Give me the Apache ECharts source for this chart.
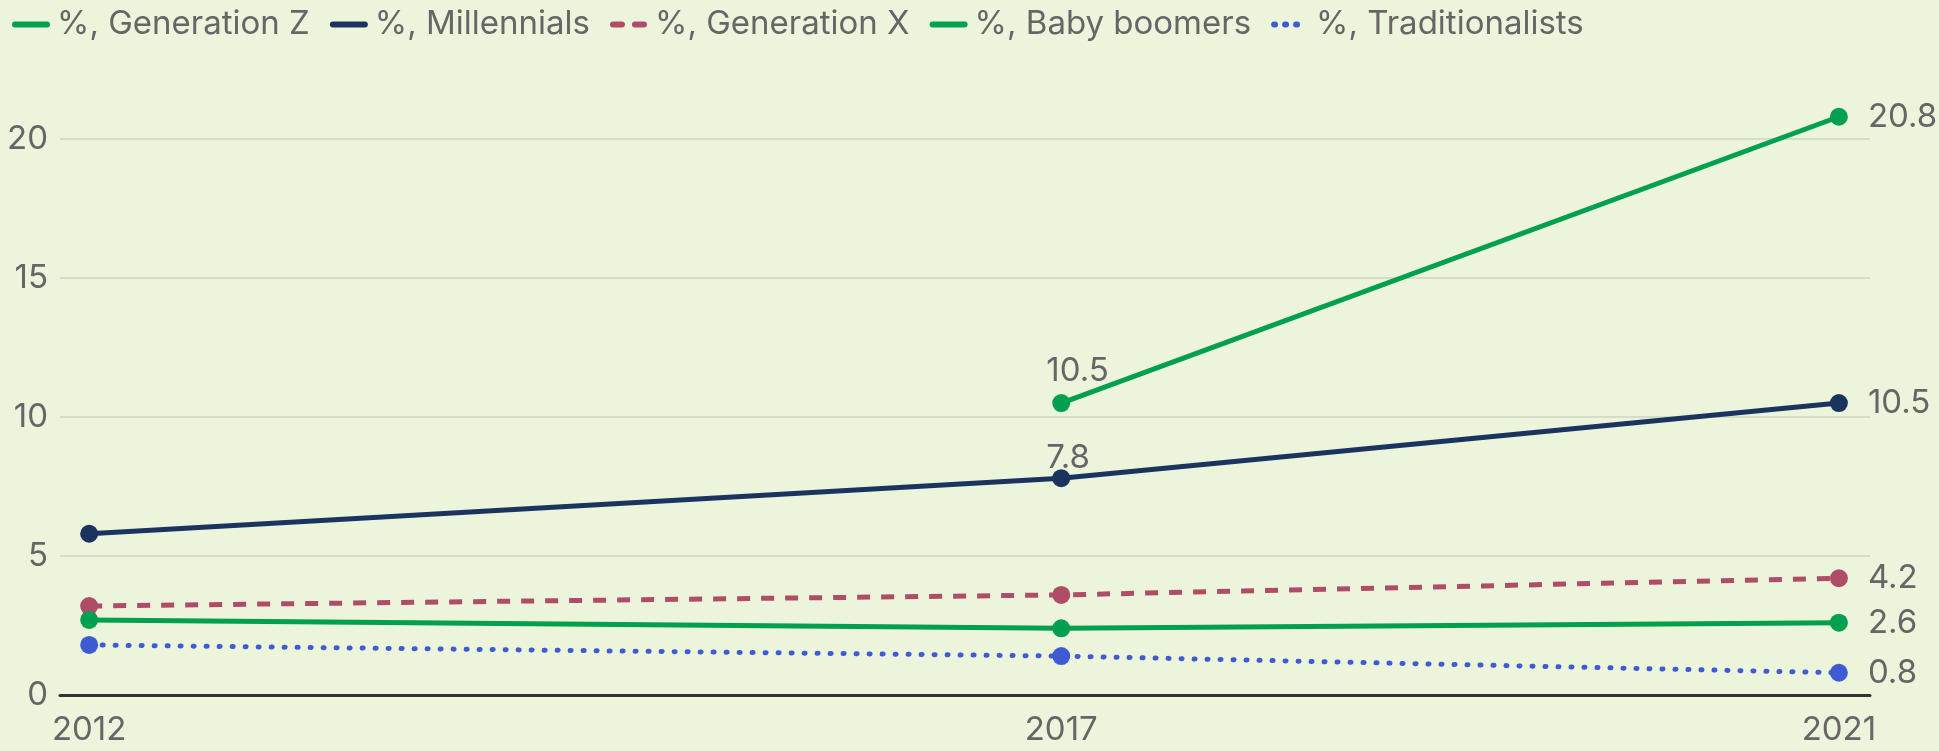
<!DOCTYPE html>
<html>
<head>
<meta charset="utf-8">
<script src="https://cdn.jsdelivr.net/npm/echarts@6/dist/echarts.min.js"></script>
<style>
  html, body { margin: 0; padding: 0; background: #ecf4dc; }
  #chart { width: 1939px; height: 751px; }
</style>
</head>
<body>
<div id="chart"></div>
<script>
const years = [2012, 2017, 2021]
const xTickLabels = [2012, 2017, 2021]
const yTicks = [0, 5, 10, 15, 20]

const seriesNames = ['%, Generation Z', '%, Millennials', '%, Generation X', '%, Baby boomers', '%, Traditionalists']
const genZ = [null, 10.5, 20.8]
const millennials = [5.8, 7.8, 10.5]
const genX = [3.2, 3.6, 4.2]
const boomers = [2.7, 2.4, 2.6]
const traditionalists = [1.8, 1.4, 0.8]

// points with a value label sitting above them (index into years)
const topLabelAt = { '%, Generation Z': 1, '%, Millennials': 1 }
const topLabelDistance = { '%, Generation Z': 7, '%, Millennials': -5 }

const textColor = '#666666'
const font = 'Inter, Roboto, sans-serif'
const fontSize = 33

function buildData(name, values) {
  return values.map((v, i) => {
    if (v === null) return [years[i], null]
    const item = { value: [years[i], v] }
    if (i === values.length - 1) {
      item.label = { show: true, position: 'right', distance: 20 }
    } else if (topLabelAt[name] === i) {
      item.label = {
        show: true,
        position: 'top',
        align: 'left',
        distance: topLabelDistance[name],
        offset: [-15, 0]
      }
    }
    return item
  })
}

function makeSeries(name, values, color, lineType, cap) {
  return {
    name: name,
    type: 'line',
    clip: false,
    symbol: 'circle',
    symbolSize: 18,
    connectNulls: false,
    lineStyle: { color: color, width: 5, type: lineType, cap: cap || 'butt' },
    itemStyle: { color: color },
    label: {
      color: textColor,
      fontFamily: font,
      fontSize: fontSize,
      formatter: (p) => p.value[1].toFixed(1)
    },
    emphasis: { disabled: true },
    data: buildData(name, values)
  }
}

const legendDash = {
  '%, Generation X': [9, 13],
  '%, Traditionalists': [1, 10]
}

const chart = echarts.init(document.getElementById('chart'))
chart.setOption({
  backgroundColor: '#ecf4dc',
  animation: false,
  legend: {
    left: 7,
    top: 3,
    itemWidth: 32,
    itemHeight: 4,
    itemGap: 20,
    itemStyle: { opacity: 0 },
    textStyle: {
      color: textColor,
      fontFamily: font,
      fontSize: 33,
      padding: [0, 0, 0, 5]
    },
    data: seriesNames.map((n) => ({
      name: n,
      lineStyle: { width: 6, cap: 'round', type: legendDash[n] || 'solid' }
    }))
  },
  grid: {
    left: 60,
    right: 69,
    top: 139,
    bottom: 56
  },
  xAxis: {
    type: 'value',
    min: 2011.85,
    max: 2021.16,
    splitLine: { show: false },
    axisTick: { show: false },
    axisLine: { lineStyle: { color: '#333333', width: 3 } },
    axisLabel: {
      customValues: xTickLabels,
      color: textColor,
      fontFamily: font,
      fontSize: fontSize,
      margin: 19,
      formatter: (v) => String(v)
    }
  },
  yAxis: {
    type: 'value',
    min: yTicks[0],
    max: yTicks[yTicks.length - 1],
    interval: 5,
    axisLine: { show: false },
    axisTick: { show: false },
    splitLine: { lineStyle: { color: '#d5dcc8', width: 2 } },
    axisLabel: {
      color: textColor,
      fontFamily: font,
      fontSize: fontSize,
      margin: 12
    }
  },
  series: [
    makeSeries(seriesNames[0], genZ, '#00a04e', 'solid'),
    makeSeries(seriesNames[1], millennials, '#1b345f', 'solid'),
    makeSeries(seriesNames[2], genX, '#b04d66', [13, 11]),
    makeSeries(seriesNames[3], boomers, '#00a04e', 'solid'),
    makeSeries(seriesNames[4], traditionalists, '#3f5bd3', [1, 12], 'round')
  ]
})
</script>
</body>
</html>
